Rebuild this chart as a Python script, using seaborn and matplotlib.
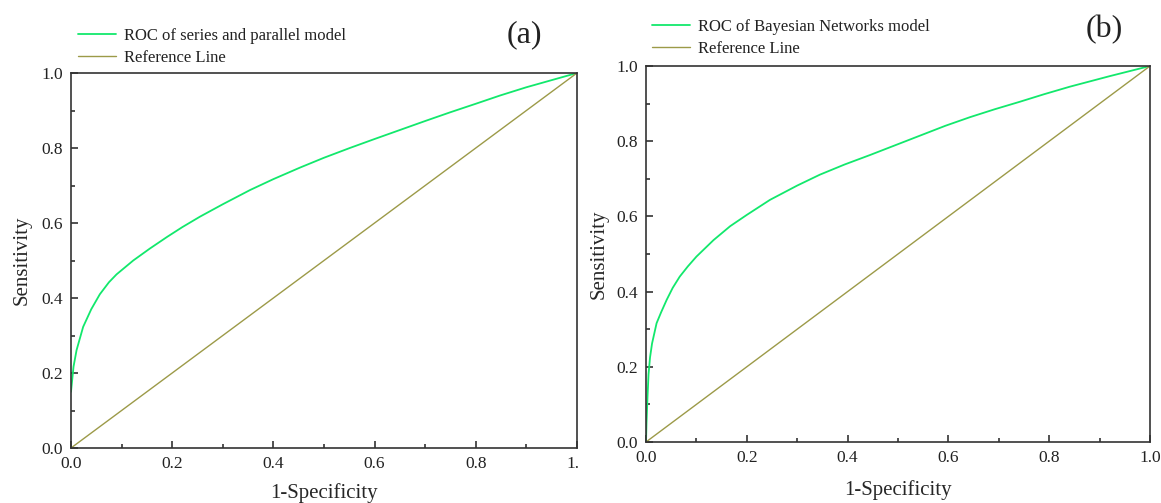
import numpy as np
import pandas as pd
import seaborn as sb
import matplotlib.pyplot as plt
from matplotlib.patches import Rectangle
from matplotlib.ticker import MultipleLocator

# ROC points
fpr_a = [0.0, 0.005, 0.011, 0.024, 0.04, 0.057, 0.075, 0.09, 0.123, 0.156, 0.19,
         0.22, 0.255, 0.3, 0.354, 0.4, 0.453, 0.5, 0.551, 0.6, 0.65, 0.7, 0.749,
         0.8, 0.848, 0.9, 0.95, 1.0]
tpr_a = [0.15, 0.217, 0.261, 0.323, 0.37, 0.41, 0.442, 0.463, 0.50, 0.532, 0.563,
         0.589, 0.617, 0.65, 0.688, 0.717, 0.748, 0.774, 0.80, 0.824, 0.848, 0.872, 0.895,
         0.918, 0.94, 0.962, 0.981, 1.0]

fpr_b = [0.0, 0.001, 0.003, 0.005, 0.008, 0.012, 0.021, 0.03, 0.041, 0.053, 0.067,
         0.083, 0.1, 0.134, 0.167, 0.2, 0.246, 0.3, 0.345, 0.394, 0.444, 0.494,
         0.544, 0.594, 0.643, 0.692, 0.742, 0.79, 0.841, 0.92, 1.0]
tpr_b = [0.0, 0.05, 0.12, 0.18, 0.225, 0.262, 0.316, 0.345, 0.378, 0.41, 0.44,
         0.467, 0.493, 0.537, 0.574, 0.604, 0.644, 0.682, 0.711, 0.738, 0.763, 0.789,
         0.815, 0.841, 0.864, 0.885, 0.905, 0.925, 0.945, 0.973, 1.0]

ref_x = [0.0, 1.0]
ref_y = [0.0, 1.0]

labels_a = ['ROC of series and parallel model', 'Reference Line']
labels_b = ['ROC of Bayesian Networks model', 'Reference Line']
ticks = [0.0, 0.2, 0.4, 0.6, 0.8, 1.0]

roc_col = '#12e86c'
ref_col = '#9c9a48'

sb.set_theme(style='ticks')
plt.rcParams['font.family'] = ['Liberation Serif', 'DejaVu Serif']
plt.rcParams['text.color'] = '#222222'

fig = plt.figure(figsize=(11.61, 5.03), dpi=100)
ax_a = fig.add_axes([71/1161, 55/503, 506/1161, 375/503])
ax_b = fig.add_axes([646/1161, 61/503, 504/1161, 376/503])

panels = [
    (ax_a, fpr_a, tpr_a, labels_a, 0.014, 1.02, '(a)', 524, 35, -0.077, -0.094),
    (ax_b, fpr_b, tpr_b, labels_b, 0.012, 1.025, '(b)', 1104, 30, -0.075, -0.1),
]

for ax, fx, ty, labs, lx, ly, tag, tx, tyy, ylx, xly in panels:
    df = pd.DataFrame({'fpr': fx, 'tpr': ty})
    sb.lineplot(data=df, x='fpr', y='tpr', ax=ax, color=roc_col, lw=1.3, label=labs[0])
    sb.lineplot(x=ref_x, y=ref_y, ax=ax, color=ref_col, lw=1.0, label=labs[1])
    ax.set_xlim(0, 1)
    ax.set_ylim(0, 1)
    ax.set_xticks(ticks)
    ax.set_yticks(ticks)
    ax.set_xticklabels(['%.1f' % t for t in ticks])
    ax.set_yticklabels(['%.1f' % t for t in ticks])
    ax.xaxis.set_minor_locator(MultipleLocator(0.1))
    ax.yaxis.set_minor_locator(MultipleLocator(0.1))
    ax.tick_params(which='both', direction='in', top=False, right=False,
                   labelsize=12.5, colors='#222222', width=1.1, pad=6)
    ax.tick_params(which='major', length=5)
    ax.tick_params(which='minor', length=3)
    for s in ax.spines.values():
        s.set_color('#333333')
        s.set_linewidth(1.2)
    ax.set_xlabel('1-Specificity', fontsize=15)
    ax.set_ylabel('Sensitivity', fontsize=15)
    ax.yaxis.set_label_coords(ylx, 0.5)
    ax.xaxis.set_label_coords(0.5, xly)
    ax.legend(loc='lower left', bbox_to_anchor=(lx, ly), frameon=False,
              fontsize=12, handlelength=2.3, handletextpad=0.45,
              labelspacing=0.32, borderpad=0, borderaxespad=0)
    fig.text(tx/1161, 1 - tyy/503, tag, fontsize=23, ha='center', va='center')

# the left panel's last tick label is cut off in the original
fig.add_artist(Rectangle((579/1161, 28/503), 30/1161, 28/503,
                         transform=fig.transFigure, color='white', zorder=10))

fig.savefig('out.png', dpi=100)
